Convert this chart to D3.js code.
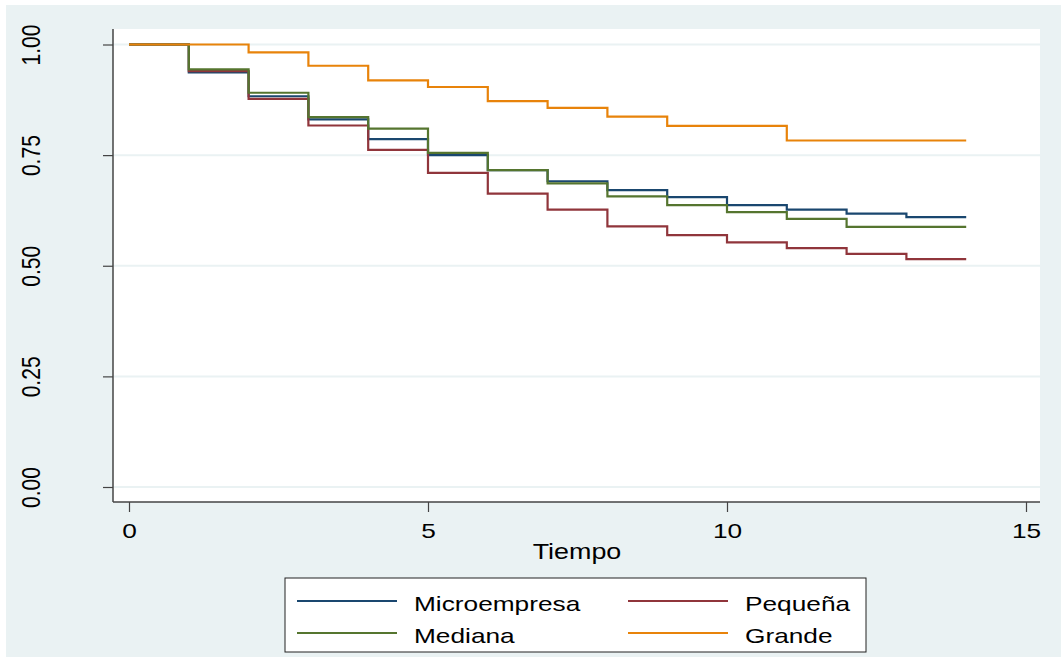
<!DOCTYPE html>
<html>
<head>
<meta charset="utf-8">
<script src="https://cdn.jsdelivr.net/npm/d3@7"></script>
<style>
  body { margin: 0; background: #ffffff; }
  svg text { font-family: "Liberation Sans", Arial, sans-serif; fill: #000; }
</style>
</head>
<body>
<div id="chart"></div>
<script>
// survival values at the start of each year, step function, last value held to 14
var tiempo = [0, 1, 2, 3, 4, 5, 6, 7, 8, 9, 10, 11, 12, 13, 14]
var microempresa = [1, 0.937, 0.883, 0.831, 0.786, 0.750, 0.716, 0.691, 0.671, 0.655, 0.637, 0.627, 0.618, 0.610, 0.610]
var pequena = [1, 0.940, 0.877, 0.817, 0.762, 0.710, 0.663, 0.627, 0.589, 0.569, 0.553, 0.540, 0.527, 0.515, 0.515]
var mediana = [1, 0.944, 0.891, 0.836, 0.810, 0.755, 0.716, 0.686, 0.657, 0.637, 0.621, 0.606, 0.588, 0.588, 0.588]
var grande = [1, 1, 0.982, 0.952, 0.919, 0.904, 0.872, 0.857, 0.837, 0.816, 0.816, 0.783, 0.783, 0.783, 0.783]

var seriesNames = ["Microempresa", "Pequeña", "Mediana", "Grande"]
var xTicks = [0, 5, 10, 15]
var yTicks = [0, 0.25, 0.5, 0.75, 1]

var W = 1061, H = 657
var stretch = 1.25   // text in the picture is a bit wider than normal
var colors = {"Microempresa": "#1a476f", "Pequeña": "#90353b", "Mediana": "#55752f", "Grande": "#e8830a"}

var svg = d3.select("#chart").append("svg")
    .attr("width", W)
    .attr("height", H)

// outer background
svg.append("rect")
    .attr("x", 6).attr("y", 5)
    .attr("width", W - 6).attr("height", H - 5)
    .attr("fill", "#eaf2f3")

var plot = {left: 113, right: 1040, top: 29, bottom: 502}

svg.append("rect")
    .attr("x", plot.left).attr("y", plot.top)
    .attr("width", plot.right - plot.left)
    .attr("height", plot.bottom - plot.top)
    .attr("fill", "#ffffff")

var x = d3.scaleLinear().domain([0, 15]).range([129, 1026])
var y = d3.scaleLinear().domain([0, 1]).range([487, 44.5])

// grid lines
svg.selectAll(".grid")
  .data(yTicks)
  .enter()
  .append("line")
    .attr("class", "grid")
    .attr("x1", plot.left)
    .attr("x2", plot.right)
    .attr("y1", function(d){ return y(d) })
    .attr("y2", function(d){ return y(d) })
    .attr("stroke", "#eaf2f3")
    .attr("stroke-width", 2)

// step lines
var data = [
  {name: "Microempresa", values: microempresa},
  {name: "Pequeña", values: pequena},
  {name: "Mediana", values: mediana},
  {name: "Grande", values: grande}
]

var line = d3.line()
    .x(function(d){ return x(d[0]) })
    .y(function(d){ return y(d[1]) })
    .curve(d3.curveStepAfter)

svg.selectAll(".km")
  .data(data)
  .enter()
  .append("path")
    .attr("class", "km")
    .attr("d", function(s){
      return line(tiempo.map(function(t, i){ return [t, s.values[i]] }))
    })
    .attr("fill", "none")
    .attr("stroke", function(s){ return colors[s.name] })
    .attr("stroke-width", 2.2)

// x axis
var xAxis = svg.append("g")
    .attr("transform", "translate(0," + plot.bottom + ")")
    .call(d3.axisBottom(x).tickValues(xTicks).tickSize(10).tickSizeOuter(0).tickPadding(9))
xAxis.select(".domain").remove()
xAxis.append("line")
    .attr("x1", plot.left).attr("x2", plot.right)
    .attr("stroke", "#444").attr("stroke-width", 1.5)
xAxis.selectAll(".tick line").attr("stroke", "#444").attr("stroke-width", 1.2)
xAxis.selectAll(".tick text")
    .attr("font-size", "21px")
    .attr("font-family", "Liberation Sans, Arial, sans-serif")
    .attr("fill", "#000")
    .attr("dy", null)
    .attr("y", 36)
    .attr("transform", "scale(" + stretch + ",1)")

// y axis
var yAxis = svg.append("g")
    .attr("transform", "translate(" + plot.left + ",0)")
    .call(d3.axisLeft(y).tickValues(yTicks).tickSize(10).tickSizeOuter(0).tickFormat(d3.format(".2f")))
yAxis.select(".domain").remove()
yAxis.append("line")
    .attr("y1", plot.top).attr("y2", plot.bottom)
    .attr("stroke", "#444").attr("stroke-width", 1.5)
yAxis.selectAll(".tick line").attr("stroke", "#444").attr("stroke-width", 1.2)
yAxis.selectAll(".tick text")
    .attr("font-size", "21px")
    .attr("font-family", "Liberation Sans, Arial, sans-serif")
    .attr("fill", "#000")
    .attr("x", null).attr("dy", null)
    .attr("text-anchor", "middle")
    .attr("transform", "translate(" + (40 - plot.left) + ",0) scale(" + stretch + ",1) rotate(-90)")

// x title
svg.append("text")
    .attr("transform", "translate(577,559) scale(" + stretch + ",1)")
    .attr("text-anchor", "middle")
    .attr("font-size", "21.5px")
    .text("Tiempo")

// legend
svg.append("rect")
    .attr("x", 285).attr("y", 578)
    .attr("width", 581).attr("height", 74)
    .attr("fill", "#ffffff")
    .attr("stroke", "#222")
    .attr("stroke-width", 1)

var legendItems = svg.selectAll(".legendItem")
  .data(seriesNames)
  .enter()
  .append("g")
    .attr("class", "legendItem")
    .attr("transform", function(d, i){
      return "translate(" + (297 + (i % 2) * 331) + "," + (601 + Math.floor(i / 2) * 32) + ")"
    })

legendItems.append("line")
    .attr("x1", 0).attr("x2", 100)
    .attr("stroke", function(d){ return colors[d] })
    .attr("stroke-width", 2.2)

legendItems.append("text")
    .attr("transform", "translate(117,10) scale(" + stretch + ",1)")
    .attr("font-size", "21px")
    .text(function(d){ return d })
</script>
</body>
</html>
